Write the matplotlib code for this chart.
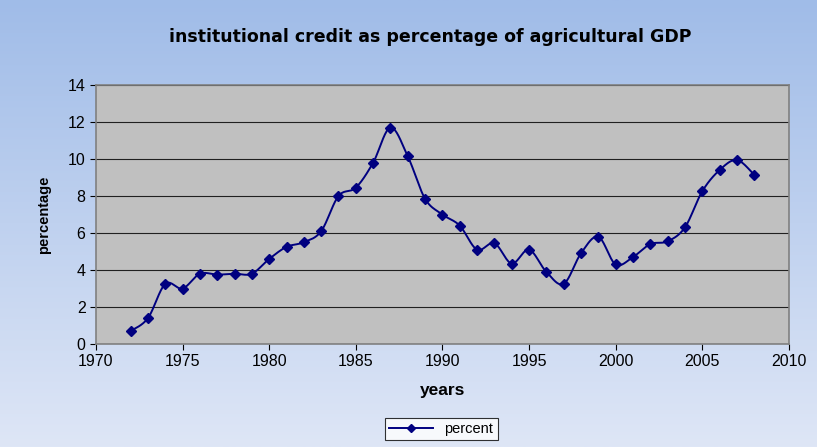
import numpy as np
import matplotlib
matplotlib.use('Agg')
import matplotlib.pyplot as plt
from matplotlib.lines import Line2D

plt.rcParams['font.family'] = ['Liberation Sans', 'DejaVu Sans']

years = list(range(1972, 2009))
percent = [0.7, 1.4, 3.25, 3.0, 3.8, 3.75, 3.8, 3.8, 4.6, 5.25,
           5.5, 6.1, 8.0, 8.45, 9.8, 11.7, 10.15, 7.85, 7.0, 6.4,
           5.1, 5.45, 4.35, 5.1, 3.9, 3.25, 4.9, 5.8, 4.3, 4.7,
           5.4, 5.55, 6.3, 8.25, 9.4, 9.95, 9.15]
y_ticks = [0, 2, 4, 6, 8, 10, 12, 14]
x_ticks = [1970, 1975, 1980, 1985, 1990, 1995, 2000, 2005, 2010]

navy = '#000080'


def smooth(x, y, n=20):
    # excel-style smoothed line (catmull-rom bezier)
    x = np.asarray(x, float)
    y = np.asarray(y, float)
    px = np.concatenate([[x[0]], x, [x[-1]]])
    py = np.concatenate([[y[0]], y, [y[-1]]])
    xs, ys = [], []
    t = np.linspace(0, 1, n)
    for i in range(1, len(px) - 2):
        p0 = np.array([px[i], py[i]])
        p3 = np.array([px[i + 1], py[i + 1]])
        c1 = p0 + (np.array([px[i + 1], py[i + 1]]) - np.array([px[i - 1], py[i - 1]])) / 6
        c2 = p3 - (np.array([px[i + 2], py[i + 2]]) - np.array([px[i], py[i]])) / 6
        b = ((1 - t) ** 3)[:, None] * p0 + (3 * (1 - t) ** 2 * t)[:, None] * c1 \
            + (3 * (1 - t) * t ** 2)[:, None] * c2 + (t ** 3)[:, None] * p3
        xs.extend(b[:, 0])
        ys.extend(b[:, 1])
    return xs, ys


fig = plt.figure(figsize=(8.17, 4.47), dpi=100)

# gradient background
bg = fig.add_axes([0, 0, 1, 1], zorder=-1)
top = np.array([160, 188, 232]) / 255
bottom = np.array([222, 230, 246]) / 255
grad = np.linspace(0, 1, 256)[:, None, None]
img = top * (1 - grad) + bottom * grad
bg.imshow(img, aspect='auto', extent=[0, 1, 0, 1])
bg.axis('off')

ax = fig.add_axes([0.1175, 0.2304, 0.848, 0.5794])
ax.set_facecolor('#C0C0C0')
for s in ax.spines.values():
    s.set_color('#808080')
    s.set_linewidth(1.2)

sx, sy = smooth(years, percent)
ax.plot(sx, sy, color=navy, lw=1.4, zorder=3)
ax.plot(years, percent, ls='none', marker='D', ms=5, color=navy, zorder=4)

ax.set_xlim(1970, 2010)
ax.set_ylim(0, 14)
ax.set_xticks(x_ticks)
ax.set_yticks(y_ticks)
ax.yaxis.grid(True, color='#202020', lw=0.8)
ax.set_axisbelow(True)
ax.tick_params(labelsize=11.5, length=4, color='black', direction='out')
ax.set_xlabel('years', fontsize=12.5, fontweight='bold', labelpad=10)
ax.set_ylabel('percentage', fontsize=10.5, fontweight='bold', labelpad=12)

fig.text(0.527, 0.918, 'institutional credit as percentage of agricultural GDP',
         ha='center', va='center', fontsize=12.5, fontweight='bold',
         family='DejaVu Sans')

handle = Line2D([], [], color=navy, marker='D', ms=4, lw=1.4)
leg = fig.legend([handle], ['percent'], loc='center', bbox_to_anchor=(0.54, 0.04),
                 frameon=True, fancybox=False, edgecolor='black', fontsize=10.5,
                 handlelength=3, borderpad=0.3)
leg.get_frame().set_linewidth(0.8)

fig.savefig('out.png', dpi=100)
